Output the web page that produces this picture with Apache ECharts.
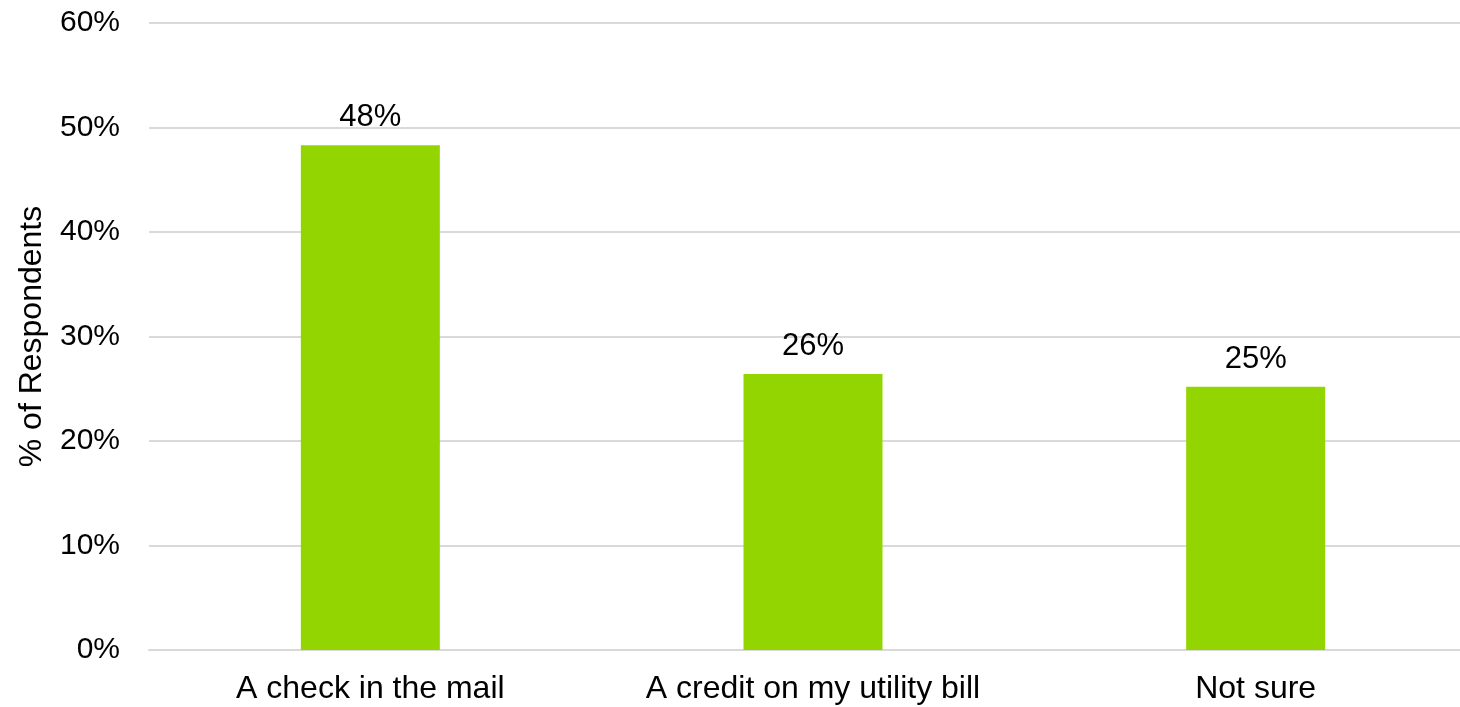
<!DOCTYPE html>
<html>
<head>
<meta charset="utf-8">
<script src="https://cdn.jsdelivr.net/npm/echarts@6/dist/echarts.min.js"></script>
<style>
  html, body { margin: 0; padding: 0; background: #ffffff; }
  #chart { width: 1460px; height: 707px; }
</style>
</head>
<body>
<div id="chart"></div>
<script>
// Survey answers and the share of respondents choosing each one
const categories = ['A check in the mail', 'A credit on my utility bill', 'Not sure'];
const shares = [48.3, 26.4, 25.2];
const yTicks = [0, 10, 20, 30, 40, 50, 60];

const FONT = '"Liberation Sans", Arial, sans-serif';
const chart = echarts.init(document.getElementById('chart'), null, { renderer: 'canvas' });

chart.setOption({
  backgroundColor: '#ffffff',
  animation: false,
  // plot area runs past the right edge so the gridlines reach the border
  grid: {
    left: 149, width: 1328, top: 23, bottom: 57,
    containLabel: false,
    outerBoundsMode: 'none'
  },
  xAxis: {
    type: 'category',
    data: categories,
    axisLine: { show: true, lineStyle: { color: '#d9d9d9', width: 2 } },
    axisTick: { show: false },
    axisLabel: { color: '#000', fontFamily: FONT, fontSize: 32, margin: 23 }
  },
  yAxis: {
    type: 'value',
    min: yTicks[0],
    max: yTicks[yTicks.length - 1],
    interval: 10,
    name: '% of Respondents',
    nameLocation: 'middle',
    nameGap: 101,
    nameRotate: 90,
    nameTextStyle: { color: '#000', fontFamily: FONT, fontSize: 32 },
    axisLine: { show: false },
    axisTick: { show: false },
    axisLabel: { color: '#000', fontFamily: FONT, fontSize: 30, margin: 29, formatter: v => v + '%' },
    splitLine: { show: true, lineStyle: { color: '#d9d9d9', width: 2 } }
  },
  series: [{
    type: 'bar',
    data: shares,
    barWidth: 139,
    itemStyle: { color: '#93d500' },
    label: {
      show: true,
      position: 'top',
      distance: 12,
      color: '#000',
      fontFamily: FONT,
      fontSize: 31,
      formatter: p => Math.round(p.value) + '%'
    }
  }]
});
</script>
</body>
</html>
